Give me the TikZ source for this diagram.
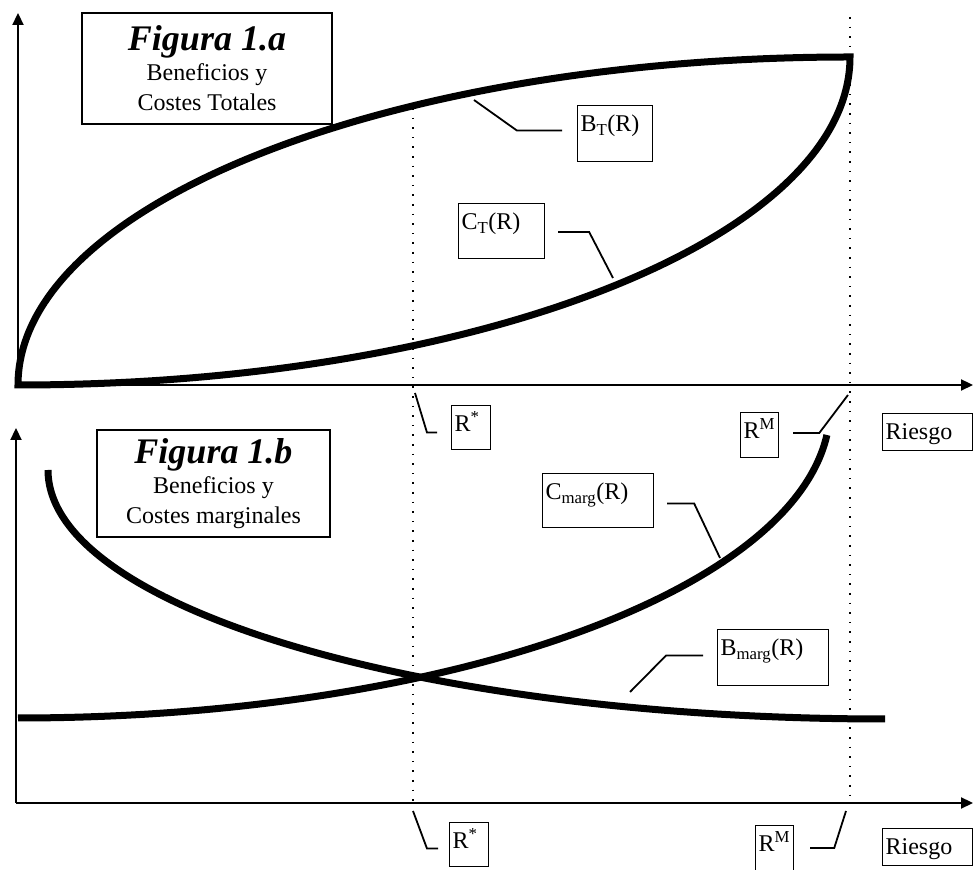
\documentclass[tikz,border=0pt]{standalone}
\usepackage{fontspec}
\setmainfont{Liberation Serif}
\usetikzlibrary{arrows.meta}

\begin{document}
\begin{tikzpicture}[x=1pt,y=1pt,
	eje/.style={line width=2.2pt,-{Triangle[length=12pt,width=11pt]}},
	curva/.style={line width=7pt},
	guia/.style={line width=2pt,dash pattern=on 1.6pt off 8pt},
	conector/.style={line width=1.8pt},
	titulo/.style={draw,line width=1.2pt,align=center,inner sep=0pt,font=\fontsize{24}{30}\selectfont},
	etiqueta/.style={draw,line width=1.2pt,anchor=north west,inner xsep=3pt,inner ysep=3pt,
		text height=23pt,align=left,font=\fontsize{24}{28}\selectfont}]
	\useasboundingbox (0,0) rectangle (975,870);
	% origenes de los ejes
	\coordinate (O1) at (18,485);
	\coordinate (O2) at (16,67);
	% rectas de R* y R^M
	\draw[guia] (413,762) -- (413,67);
	\draw[guia] (850,853) -- (850,67);
	% ejes
	\draw[eje] (O1) -- (18,857);
	\draw[eje] (O1) -- (973,485);
	\draw[eje] (O2) -- (16,442);
	\draw[eje] (O2) -- (973,67);
	% figura 1.a: beneficios y costes totales
	\draw[curva,line join=miter] (O1) arc[start angle=180,end angle=90,x radius=832,y radius=328]
	arc[start angle=0,end angle=-90,x radius=832,y radius=328] -- cycle;
	\node[titulo,minimum width=250pt,minimum height=111pt] (fig1a) at (207,801.5)
	{{\fontsize{36}{30}\selectfont\bfseries\itshape Figura 1.a}\\Beneficios y\\Costes Totales};
	\coordinate (pBT) at (474,770);
	\coordinate (pCT) at (613,592);
	\node[etiqueta,text width=69pt,text depth=27pt] (bt) at (577,765) {B\textsubscript{T}(R)};
	\draw[conector] ([xshift=-15pt,yshift=3pt]bt.west) -- ++(-45,0) -- (pBT);
	\node[etiqueta,text width=80pt,text depth=26pt] (ct) at (458,667) {C\textsubscript{T}(R)};
	\draw[conector] ([xshift=13pt,yshift=-1pt]ct.east) -- ++(31,0) -- (pCT);
	% etiquetas del eje superior
	\coordinate (eRs1) at (415,477);
	\coordinate (eRm1) at (848,475);
	\node[etiqueta,text width=33pt,text depth=15pt] (rs1) at (451,465) {R\textsuperscript{*}};
	\draw[conector] ([xshift=-14pt,yshift=-5pt]rs1.west) -- ++(-10,0) -- (eRs1);
	\node[etiqueta,text width=32pt,text depth=16pt] (rm1) at (740,458) {R\textsuperscript{M}};
	\draw[conector] ([xshift=14pt,yshift=2pt]rm1.east) -- ++(26,0) -- (eRm1);
	\node[etiqueta,text width=84pt,text depth=8pt] (ri1) at (882,457) {Riesgo};
	% figura 1.b: beneficios y costes marginales
	\draw[curva] (18,152) arc[start angle=270,end angle=355,x radius=812,y radius=310];
	\draw[curva] (48,400) arc[start angle=180,end angle=270,x radius=837,y radius=249];
	\node[titulo,minimum width=233pt,minimum height=107pt] (fig1b) at (213.5,386.5)
	{{\fontsize{36}{30}\selectfont\bfseries\itshape Figura 1.b}\\Beneficios y\\Costes marginales};
	\coordinate (pCM) at (720,312);
	\coordinate (pBM) at (630,178);
	\node[etiqueta,text width=105pt,text depth=25pt] (cm) at (542,397) {C\textsubscript{marg}(R)};
	\draw[conector] ([xshift=13pt,yshift=-3pt]cm.east) -- ++(27,0) -- (pCM);
	\node[etiqueta,text width=105pt,text depth=27pt] (bm) at (717,241) {B\textsubscript{marg}(R)};
	\draw[conector] ([xshift=-14pt,yshift=2pt]bm.west) -- ++(-37,0) -- (pBM);
	% etiquetas del eje inferior
	\coordinate (eRs2) at (413,59);
	\coordinate (eRm2) at (846,59);
	\node[etiqueta,text width=33pt,text depth=15pt] (rs2) at (449,48) {R\textsuperscript{*}};
	\draw[conector] ([xshift=-11pt,yshift=-4pt]rs2.west) -- ++(-11,0) -- (eRs2);
	\node[etiqueta,text width=32pt,text depth=16pt] (rm2) at (755,45) {R\textsuperscript{M}};
	\draw[conector] ([xshift=16pt]rm2.east) -- ++(24,0) -- (eRm2);
	\node[etiqueta,text width=84pt,text depth=8pt] (ri2) at (882,42) {Riesgo};
\end{tikzpicture}
\end{document}
